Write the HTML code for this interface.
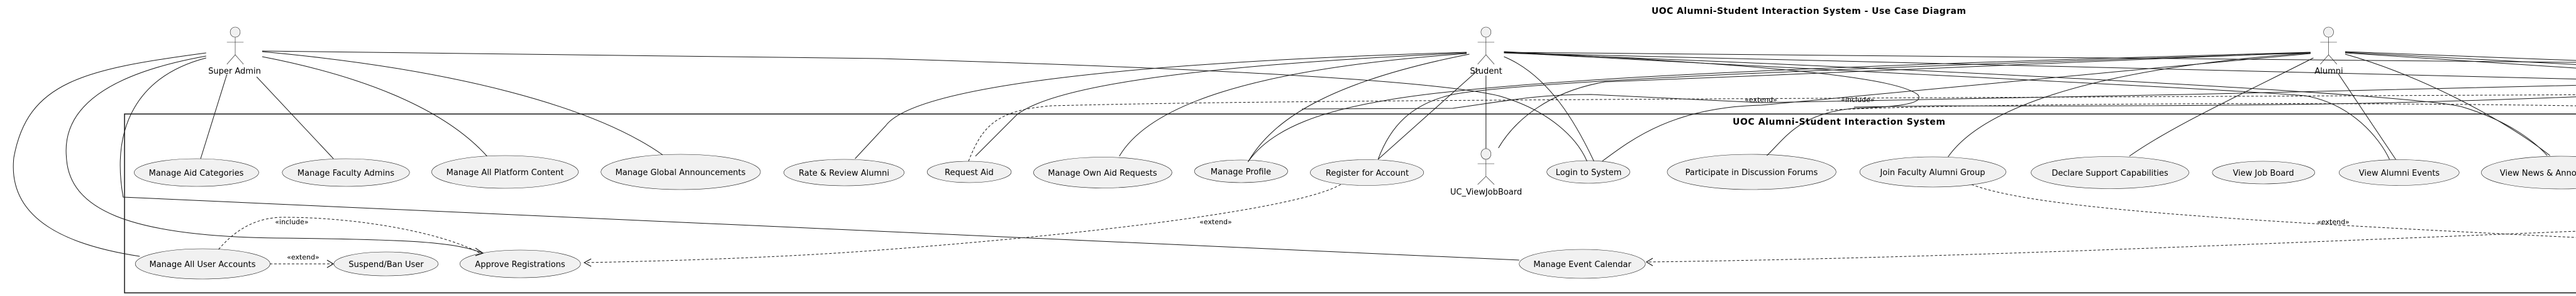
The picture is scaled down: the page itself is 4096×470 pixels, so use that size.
<!DOCTYPE html>
<html><head><meta charset="utf-8"><style>
html,body{margin:0;padding:0;background:#fff;}
svg{display:block;}
text{font-family:"DejaVu Sans","Liberation Sans",sans-serif;fill:#000;}
.uc{font-size:13px;text-anchor:middle;}
.st{font-size:11px;text-anchor:middle;}
</style></head><body>
<svg width="4096" height="470" viewBox="0 0 4096 470" xmlns="http://www.w3.org/2000/svg">
<rect width="4096" height="470" fill="#fff"/>
<g transform="scale(2.2,1)" fill="none" stroke="#181818">
 <!-- system box -->
 <rect x="90" y="181" width="2000" height="284" stroke-width="1.5" vector-effect="non-scaling-stroke"/>
 <!-- use cases -->
 <g fill="#f1f1f1" stroke="#181818" stroke-width="0.6" vector-effect="non-scaling-stroke">
  <ellipse cx="142" cy="274" rx="45" ry="22" vector-effect="non-scaling-stroke"/>
  <ellipse cx="250" cy="274" rx="46" ry="22" vector-effect="non-scaling-stroke"/>
  <ellipse cx="365" cy="273" rx="53" ry="26" vector-effect="non-scaling-stroke"/>
  <ellipse cx="492" cy="273" rx="57.6" ry="28" vector-effect="non-scaling-stroke"/>
  <ellipse cx="610" cy="274" rx="43.5" ry="21" vector-effect="non-scaling-stroke"/>
  <ellipse cx="700.5" cy="273" rx="30.4" ry="17" vector-effect="non-scaling-stroke"/>
  <ellipse cx="797" cy="274" rx="50" ry="24.5" vector-effect="non-scaling-stroke"/>
  <ellipse cx="897" cy="272" rx="33.7" ry="18" vector-effect="non-scaling-stroke"/>
  <ellipse cx="988" cy="274" rx="41" ry="20.5" vector-effect="non-scaling-stroke"/>
  <ellipse cx="1148" cy="273" rx="30" ry="18" vector-effect="non-scaling-stroke"/>
  <ellipse cx="1266" cy="273" rx="61" ry="28" vector-effect="non-scaling-stroke"/>
  <ellipse cx="1397" cy="273" rx="52.8" ry="24" vector-effect="non-scaling-stroke"/>
  <ellipse cx="1525" cy="274" rx="57" ry="25.5" vector-effect="non-scaling-stroke"/>
  <ellipse cx="1636" cy="274" rx="37" ry="18" vector-effect="non-scaling-stroke"/>
  <ellipse cx="1734" cy="274" rx="43.4" ry="20.5" vector-effect="non-scaling-stroke"/>
  <ellipse cx="1851" cy="274" rx="57.6" ry="26" vector-effect="non-scaling-stroke"/>
  <ellipse cx="146.5" cy="419" rx="48.7" ry="24" vector-effect="non-scaling-stroke"/>
  <ellipse cx="279" cy="419" rx="37.7" ry="19" vector-effect="non-scaling-stroke"/>
  <ellipse cx="376" cy="419" rx="43.6" ry="22" vector-effect="non-scaling-stroke"/>
  <ellipse cx="1143.6" cy="419" rx="45.6" ry="23" vector-effect="non-scaling-stroke"/>
 </g>
 <!-- actors -->
 <g fill="#f1f1f1" stroke-width="0.6">
  <ellipse cx="170" cy="51" rx="3.6" ry="8" vector-effect="non-scaling-stroke"/>
  <ellipse cx="1074" cy="51" rx="3.6" ry="8" vector-effect="non-scaling-stroke"/>
  <ellipse cx="1683" cy="51" rx="3.6" ry="8" vector-effect="non-scaling-stroke"/>
  <ellipse cx="1074" cy="244.5" rx="3.6" ry="8.5" vector-effect="non-scaling-stroke"/>
 </g>
 <g stroke-width="0.6">
  <path d="M170,59 V87 M164,67 H176 M164,102 L170,87 L176,102" vector-effect="non-scaling-stroke"/>
  <path d="M1074,59 V87 M1068,67 H1080 M1068,102 L1074,87 L1080,102" vector-effect="non-scaling-stroke"/>
  <path d="M1683,59 V87 M1677,67 H1689 M1677,102 L1683,87 L1689,102" vector-effect="non-scaling-stroke"/>
  <path d="M1074,253 V280 M1068,260 H1080 M1068,293 L1074,280 L1080,293" vector-effect="non-scaling-stroke"/>
 </g>
 <!-- solid associations -->
 <g stroke-width="1" vector-effect="non-scaling-stroke">
  <path d="M164,118 L145,252" vector-effect="non-scaling-stroke"/>
  <path d="M185.5,122 L241,252" vector-effect="non-scaling-stroke"/>
  <path d="M189.5,90 C260,120 320,170 352,248" vector-effect="non-scaling-stroke"/>
  <path d="M189.5,82 C330,110 430,170 479,246" vector-effect="non-scaling-stroke"/>
  <path d="M189.5,81 L636,93 C900,110 1040,130 1083,152 C1120,175 1140,220 1147,256" vector-effect="non-scaling-stroke"/>
  <path d="M149,84 C60,110 20,130 10,250 C5,350 50,390 101,407" vector-effect="non-scaling-stroke"/>
  <path d="M149,89 C70,120 45,180 48,250 C50,330 90,375 200,378 C300,380 330,385 349,402" vector-effect="non-scaling-stroke"/>
  <path d="M149,92 C100,120 80,200 89,313 L1098,413" vector-effect="non-scaling-stroke"/>
  <path d="M1060,83 C800,100 660,140 640,200 L618,252" vector-effect="non-scaling-stroke"/>
  <path d="M1060,84 C850,105 760,140 735,182 L705,248" vector-effect="non-scaling-stroke"/>
  <path d="M1060,85 C900,110 830,170 809,248" vector-effect="non-scaling-stroke"/>
  <path d="M1062,86 C960,130 920,190 902,257" vector-effect="non-scaling-stroke"/>
  <path d="M1069,110 L996,253" vector-effect="non-scaling-stroke"/>
  <path d="M1074,120 V236" vector-effect="non-scaling-stroke"/>
  <path d="M1087,90 C1120,120 1140,200 1152,256" vector-effect="non-scaling-stroke"/>
  <path d="M1087,83 C1300,110 1600,140 1666,152 C1700,165 1720,220 1727,253" vector-effect="non-scaling-stroke"/>
  <path d="M1087,84 C1400,110 1750,150 1780,170 C1810,190 1830,220 1841,247" vector-effect="non-scaling-stroke"/>
  <path d="M1087,82 C1300,105 1370,125 1386,150 C1392,165 1370,170 1340,172 C1300,180 1290,220 1277,247" vector-effect="non-scaling-stroke"/>
  <path d="M1087,83 L1909,100" vector-effect="non-scaling-stroke"/>
  <path d="M1087,84 L1909,128" vector-effect="non-scaling-stroke"/>
  <path d="M1670,85 C1500,120 1300,160 1273,167 C1210,170 1180,220 1158,256" vector-effect="non-scaling-stroke"/>
  <path d="M1670,83 C1400,100 1100,120 1000,160 C960,175 920,200 902,257" vector-effect="non-scaling-stroke"/>
  <path d="M1670,84 C1300,110 1100,130 1050,150 C1020,165 1005,200 996,253" vector-effect="non-scaling-stroke"/>
  <path d="M1670,83 L1273,120 L1160,130 C1120,145 1095,190 1083,235" vector-effect="non-scaling-stroke"/>
  <path d="M1670,84 C1500,110 1430,180 1408,249" vector-effect="non-scaling-stroke"/>
  <path d="M1672,92 C1620,150 1570,200 1539,248" vector-effect="non-scaling-stroke"/>
  <path d="M1690,117 L1731.5,253" vector-effect="non-scaling-stroke"/>
  <path d="M1695,86 C1750,120 1810,190 1843,247" vector-effect="non-scaling-stroke"/>
  <path d="M1695,82 L1909,100" vector-effect="non-scaling-stroke"/>
  <path d="M1695,83 L1909,108" vector-effect="non-scaling-stroke"/>
  <path d="M1695,84 L1909,115" vector-effect="non-scaling-stroke"/>
  <path d="M1909,133 L1580,150 L1273,163 L1150,150 C1110,150 1090,160 1050,172 L941,173" vector-effect="non-scaling-stroke"/>
  <path d="M1909,150 C1780,160 1700,170 1400,168 L1340,170" vector-effect="non-scaling-stroke"/>
 </g>
 <!-- dashed relations -->
 <g stroke-width="1" stroke-dasharray="4,3">
  <path d="M158,396 C170,365 185,345 205,345 C260,345 320,370 347,402" vector-effect="non-scaling-stroke"/>
  <path d="M195,419 L240,419" vector-effect="non-scaling-stroke"/>
  <path d="M969,293 C940,330 800,370 636,397 C560,410 470,415 423,417" vector-effect="non-scaling-stroke"/>
  <path d="M1909,363 C1600,390 1400,410 1190,416" vector-effect="non-scaling-stroke"/>
  <path d="M1425,293 C1470,330 1600,350 1909,382" vector-effect="non-scaling-stroke"/>
  <path d="M700,256 C710,200 720,175 760,168 C900,160 1100,158 1909,150" vector-effect="non-scaling-stroke"/>
  <path d="M1320,175 C1400,165 1700,160 1909,170" vector-effect="non-scaling-stroke"/>
 </g>
</g>
<!-- arrowheads -->
<g fill="none" stroke="#181818" stroke-width="1.2">
 <polyline points="756,394 768,402 756,406"/>
 <polyline points="940,411 929,417 940,423"/>
 <polyline points="520,413 530,419 520,425"/>
 <polyline points="2628,410 2618,416 2628,422"/>
</g>
<!-- text -->
<text x="2876" y="22" font-size="14" font-weight="bold" text-anchor="middle" textLength="500">UOC Alumni-Student Interaction System - Use Case Diagram</text>
<text x="2924" y="198" font-size="14" font-weight="bold" text-anchor="middle" textLength="338">UOC Alumni-Student Interaction System</text>
<text x="373" y="117" class="uc">Super Admin</text>
<text x="2363" y="117" class="uc">Student</text>
<text x="3703" y="117" class="uc">Alumni</text>
<text x="2363" y="309" class="uc">UC_ViewJobBoard</text>
<g class="uc">
<text x="312" y="279" class="uc">Manage Aid Categories</text>
<text x="550" y="279" class="uc">Manage Faculty Admins</text>
<text x="803" y="278" class="uc">Manage All Platform Content</text>
<text x="1082" y="278" class="uc">Manage Global Announcements</text>
<text x="1342" y="279" class="uc">Rate &amp; Review Alumni</text>
<text x="1541" y="278" class="uc">Request Aid</text>
<text x="1753" y="279" class="uc">Manage Own Aid Requests</text>
<text x="1973" y="277" class="uc">Manage Profile</text>
<text x="2174" y="279" class="uc">Register for Account</text>
<text x="2526" y="278" class="uc">Login to System</text>
<text x="2785" y="278" class="uc">Participate in Discussion Forums</text>
<text x="3073" y="278" class="uc">Join Faculty Alumni Group</text>
<text x="3355" y="279" class="uc">Declare Support Capabilities</text>
<text x="3599" y="279" class="uc">View Job Board</text>
<text x="3815" y="279" class="uc">View Alumni Events</text>
<text x="4072" y="279" class="uc">View News &amp; Announcements</text>
<text x="322" y="424" class="uc">Manage All User Accounts</text>
<text x="614" y="424" class="uc">Suspend/Ban User</text>
<text x="827" y="424" class="uc">Approve Registrations</text>
<text x="2516" y="424" class="uc">Manage Event Calendar</text>
</g>
<text x="464" y="356" class="st">«include»</text>
<text x="482" y="412" class="st">«extend»</text>
<text x="1933" y="356" class="st">«extend»</text>
<text x="2800" y="162" class="st">«extend»</text>
<text x="2954" y="162" class="st">«include»</text>
<text x="3710" y="356" class="st">«extend»</text>
</svg>
</body></html>
